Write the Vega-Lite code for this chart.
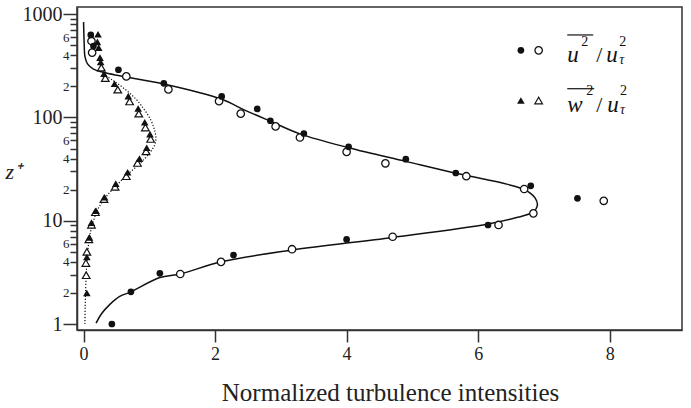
{
  "$schema": "https://vega.github.io/schema/vega-lite/v6.json",
  "width": 605,
  "height": 323,
  "autosize": {"type": "none"},
  "padding": {"left": 77, "top": 7, "right": 9, "bottom": 78},
  "background": "white",
  "config": {
    "font": "Liberation Serif",
    "view": {"stroke": "#333", "strokeWidth": 1.5},
    "axis": {"grid": false, "domainColor": "#333", "domainWidth": 1.5, "tickColor": "#333", "tickWidth": 1.5, "labelColor": "#222", "titleColor": "#222", "titleFontWeight": "normal", "labelFont": "Liberation Serif", "titleFont": "Liberation Serif"}
  },
  "datasets": {
    "uF": [
      {"x": 0.43, "y": 1.0}, {"x": 0.72, "y": 2.05}, {"x": 1.16, "y": 3.1}, {"x": 2.28, "y": 4.65}, {"x": 4.0, "y": 6.6},
      {"x": 6.15, "y": 9.1}, {"x": 7.51, "y": 16.5}, {"x": 6.8, "y": 21.8}, {"x": 5.66, "y": 29}, {"x": 4.9, "y": 39.5},
      {"x": 4.03, "y": 52}, {"x": 3.35, "y": 70}, {"x": 2.84, "y": 93}, {"x": 2.64, "y": 121}, {"x": 2.1, "y": 160},
      {"x": 1.22, "y": 214}, {"x": 0.53, "y": 290}, {"x": 0.15, "y": 492}, {"x": 0.11, "y": 630}
    ],
    "uO": [
      {"x": 1.47, "y": 3.05}, {"x": 2.09, "y": 4.0}, {"x": 3.17, "y": 5.3}, {"x": 4.7, "y": 7.0}, {"x": 6.31, "y": 9.1},
      {"x": 6.84, "y": 11.8}, {"x": 7.91, "y": 15.6}, {"x": 6.7, "y": 20.3}, {"x": 5.82, "y": 27}, {"x": 4.59, "y": 36},
      {"x": 4.0, "y": 46.5}, {"x": 3.29, "y": 64}, {"x": 2.92, "y": 82}, {"x": 2.39, "y": 109}, {"x": 2.06, "y": 144},
      {"x": 1.29, "y": 187}, {"x": 0.65, "y": 250}, {"x": 0.13, "y": 425}, {"x": 0.12, "y": 550}
    ],
    "wF": [
      {"x": 0.05, "y": 2.0}, {"x": 0.05, "y": 4.45}, {"x": 0.09, "y": 6.9}, {"x": 0.12, "y": 9.6}, {"x": 0.19, "y": 12.5},
      {"x": 0.32, "y": 16.9}, {"x": 0.49, "y": 22.9}, {"x": 0.67, "y": 29.5}, {"x": 0.85, "y": 40}, {"x": 0.96, "y": 51},
      {"x": 1.01, "y": 69}, {"x": 0.93, "y": 90}, {"x": 0.83, "y": 122}, {"x": 0.68, "y": 161}, {"x": 0.47, "y": 212},
      {"x": 0.31, "y": 265}, {"x": 0.26, "y": 345}, {"x": 0.25, "y": 380}, {"x": 0.23, "y": 475}, {"x": 0.21, "y": 540},
      {"x": 0.22, "y": 640}
    ],
    "wO": [
      {"x": 0.04, "y": 2.97}, {"x": 0.035, "y": 3.9}, {"x": 0.05, "y": 5.0}, {"x": 0.08, "y": 6.6}, {"x": 0.12, "y": 9.15},
      {"x": 0.18, "y": 12.1}, {"x": 0.31, "y": 16.2}, {"x": 0.48, "y": 21.3}, {"x": 0.65, "y": 27}, {"x": 0.82, "y": 36.3},
      {"x": 0.95, "y": 47}, {"x": 1.02, "y": 62}, {"x": 0.94, "y": 80}, {"x": 0.84, "y": 109}, {"x": 0.7, "y": 143},
      {"x": 0.52, "y": 186}, {"x": 0.33, "y": 241}, {"x": 0.27, "y": 304}
    ],
    "uLine": [
      {"x": 0.19, "y": 1.02}, {"x": 0.27, "y": 1.25}, {"x": 0.4, "y": 1.55}, {"x": 0.55, "y": 1.85}, {"x": 0.72, "y": 2.05},
      {"x": 1.16, "y": 2.82}, {"x": 1.47, "y": 3.05}, {"x": 2.09, "y": 4.0}, {"x": 3.17, "y": 5.2}, {"x": 4.7, "y": 6.9},
      {"x": 6.15, "y": 9.3}, {"x": 6.6, "y": 10.8}, {"x": 6.84, "y": 12.2}, {"x": 6.9, "y": 14.0}, {"x": 6.87, "y": 16.5},
      {"x": 6.72, "y": 19.8}, {"x": 6.45, "y": 22.5}, {"x": 5.7, "y": 28.5}, {"x": 4.9, "y": 37.6}, {"x": 4.03, "y": 51},
      {"x": 3.3, "y": 69}, {"x": 2.84, "y": 92}, {"x": 2.45, "y": 118}, {"x": 2.1, "y": 150}, {"x": 1.22, "y": 211},
      {"x": 0.51, "y": 256}, {"x": 0.3, "y": 274}, {"x": 0.15, "y": 294}, {"x": 0.06, "y": 330}, {"x": 0.02, "y": 390},
      {"x": 0.01, "y": 500}, {"x": 0.0, "y": 840}
    ],
    "wLine": [
      {"x": 0.02, "y": 1.0}, {"x": 0.025, "y": 1.5}, {"x": 0.03, "y": 2.0}, {"x": 0.04, "y": 3.0}, {"x": 0.05, "y": 4.0},
      {"x": 0.07, "y": 5.5}, {"x": 0.1, "y": 7.5}, {"x": 0.15, "y": 10}, {"x": 0.22, "y": 13}, {"x": 0.34, "y": 17},
      {"x": 0.5, "y": 22}, {"x": 0.68, "y": 28.5}, {"x": 0.86, "y": 36}, {"x": 1.0, "y": 45}, {"x": 1.08, "y": 54},
      {"x": 1.1, "y": 62}, {"x": 1.08, "y": 75}, {"x": 1.02, "y": 95}, {"x": 0.92, "y": 120}, {"x": 0.8, "y": 150},
      {"x": 0.62, "y": 190}, {"x": 0.44, "y": 230}, {"x": 0.3, "y": 262}
    ],
    "legCircF": [{"x": 6.65, "y": 447}],
    "legCircO": [{"x": 6.92, "y": 447}],
    "legTriF": [{"x": 6.65, "y": 146}],
    "legTriO": [{"x": 6.92, "y": 146}],
    "tMain": [
      {"x": 7.355, "y": 342, "t": "u"}, {"x": 7.947, "y": 342, "t": "u"},
      {"x": 7.355, "y": 114, "t": "w"}, {"x": 7.962, "y": 114, "t": "u"}
    ],
    "tSlash": [{"x": 7.795, "y": 342, "t": "/"}, {"x": 7.795, "y": 114, "t": "/"}],
    "tSup": [
      {"x": 7.567, "y": 492, "t": "2"}, {"x": 8.144, "y": 492, "t": "2"},
      {"x": 7.643, "y": 164, "t": "2"}, {"x": 8.159, "y": 164, "t": "2"}
    ],
    "tSub": [{"x": 8.144, "y": 327, "t": "τ"}, {"x": 8.159, "y": 109, "t": "τ"}],
    "over": [{"x": 7.355, "x2": 7.75, "y": 630}, {"x": 7.355, "x2": 7.765, "y": 190}]
  },
  "encoding": {
    "x": {
      "field": "x", "type": "quantitative",
      "scale": {"domain": [-0.1, 9.1], "nice": false, "zero": false},
      "axis": {
        "values": [0, 2, 4, 6, 8], "tickSize": 12, "labelFont": "Liberation Serif", "labelFontSize": 18, "labelPadding": 3, "labelFlush": false,
        "title": "Normalized turbulence intensities", "titleFont": "Liberation Serif", "titleFontSize": 25,
        "titleX": 313, "titleY": 70, "titleAlign": "center", "titleBaseline": "alphabetic"
      }
    },
    "y": {
      "field": "y", "type": "quantitative",
      "scale": {"type": "log", "domain": [0.875, 1175], "nice": false},
      "axis": {
        "values": [1, 2, 3, 4, 5, 6, 7, 8, 9, 10, 20, 30, 40, 50, 60, 70, 80, 90, 100, 200, 300, 400, 500, 600, 700, 800, 900, 1000],
        "labelExpr": "indexof([1,10,100,1000], datum.value) >= 0 ? format(datum.value, 'd') : (indexof([2,4,6,20,40,60,200,400,600], datum.value) >= 0 ? format(datum.value / pow(10, floor(log(datum.value) / LN10 + 0.0001)), '.0f') : '')",
        "labelFont": "Liberation Serif",
        "labelFontSize": {"condition": {"test": "indexof([1,10,100,1000], datum.value) >= 0", "value": 20}, "value": 13},
        "tickSize": {"condition": {"test": "indexof([1,10,100,1000], datum.value) >= 0", "value": 14}, "value": 7},
        "labelPadding": 1,
        "title": "z⁺", "titleFont": "Liberation Serif", "titleAngle": 0, "titleX": -72, "titleY": 171, "titleAlign": "left", "titleBaseline": "alphabetic",
        "titleFontSize": 22, "titleFontStyle": "italic"
      }
    }
  },
  "layer": [
    {"data": {"name": "uLine"}, "mark": {"type": "line", "color": "#111", "strokeWidth": 1.5, "interpolate": "catmull-rom"},
     "encoding": {"order": {"field": "y", "type": "quantitative"}}},
    {"data": {"name": "wLine"}, "mark": {"type": "line", "color": "#111", "strokeWidth": 1.2, "strokeDash": [1.2, 1.8], "interpolate": "catmull-rom"},
     "encoding": {"order": {"field": "y", "type": "quantitative"}}},
    {"data": {"name": "uO"}, "mark": {"type": "point", "shape": "circle", "filled": false, "fill": "white", "fillOpacity": 1, "stroke": "#111", "strokeWidth": 1.3, "size": 55, "opacity": 1}},
    {"data": {"name": "uF"}, "mark": {"type": "point", "shape": "circle", "filled": true, "color": "#111", "size": 45, "opacity": 1}},
    {"data": {"name": "wO"}, "mark": {"type": "point", "shape": "triangle-up", "filled": false, "fill": "white", "fillOpacity": 1, "stroke": "#111", "strokeWidth": 1.2, "size": 58, "opacity": 1}},
    {"data": {"name": "wF"}, "mark": {"type": "point", "shape": "triangle-up", "filled": true, "color": "#111", "size": 58, "opacity": 1}},
    {"data": {"name": "legCircF"}, "mark": {"type": "point", "shape": "circle", "filled": true, "color": "#111", "size": 45, "opacity": 1}},
    {"data": {"name": "legCircO"}, "mark": {"type": "point", "shape": "circle", "filled": false, "fill": "white", "fillOpacity": 1, "stroke": "#111", "strokeWidth": 1.3, "size": 55, "opacity": 1}},
    {"data": {"name": "legTriF"}, "mark": {"type": "point", "shape": "triangle-up", "filled": true, "color": "#111", "size": 58, "opacity": 1}},
    {"data": {"name": "legTriO"}, "mark": {"type": "point", "shape": "triangle-up", "filled": false, "fill": "white", "fillOpacity": 1, "stroke": "#111", "strokeWidth": 1.2, "size": 58, "opacity": 1}},
    {"data": {"name": "tMain"}, "mark": {"type": "text", "align": "left", "baseline": "alphabetic", "font": "Liberation Serif", "fontSize": 23, "fontStyle": "italic", "color": "#111"},
     "encoding": {"text": {"field": "t"}}},
    {"data": {"name": "tSlash"}, "mark": {"type": "text", "align": "left", "baseline": "alphabetic", "font": "Liberation Serif", "fontSize": 22, "color": "#111"},
     "encoding": {"text": {"field": "t"}}},
    {"data": {"name": "tSup"}, "mark": {"type": "text", "align": "left", "baseline": "alphabetic", "font": "Liberation Serif", "fontSize": 14, "color": "#111"},
     "encoding": {"text": {"field": "t"}}},
    {"data": {"name": "tSub"}, "mark": {"type": "text", "align": "left", "baseline": "alphabetic", "font": "Liberation Serif", "fontSize": 14, "fontStyle": "italic", "color": "#111"},
     "encoding": {"text": {"field": "t"}}},
    {"data": {"name": "over"}, "mark": {"type": "rule", "color": "#111", "strokeWidth": 1.2},
     "encoding": {"x2": {"field": "x2"}}}
  ]
}
